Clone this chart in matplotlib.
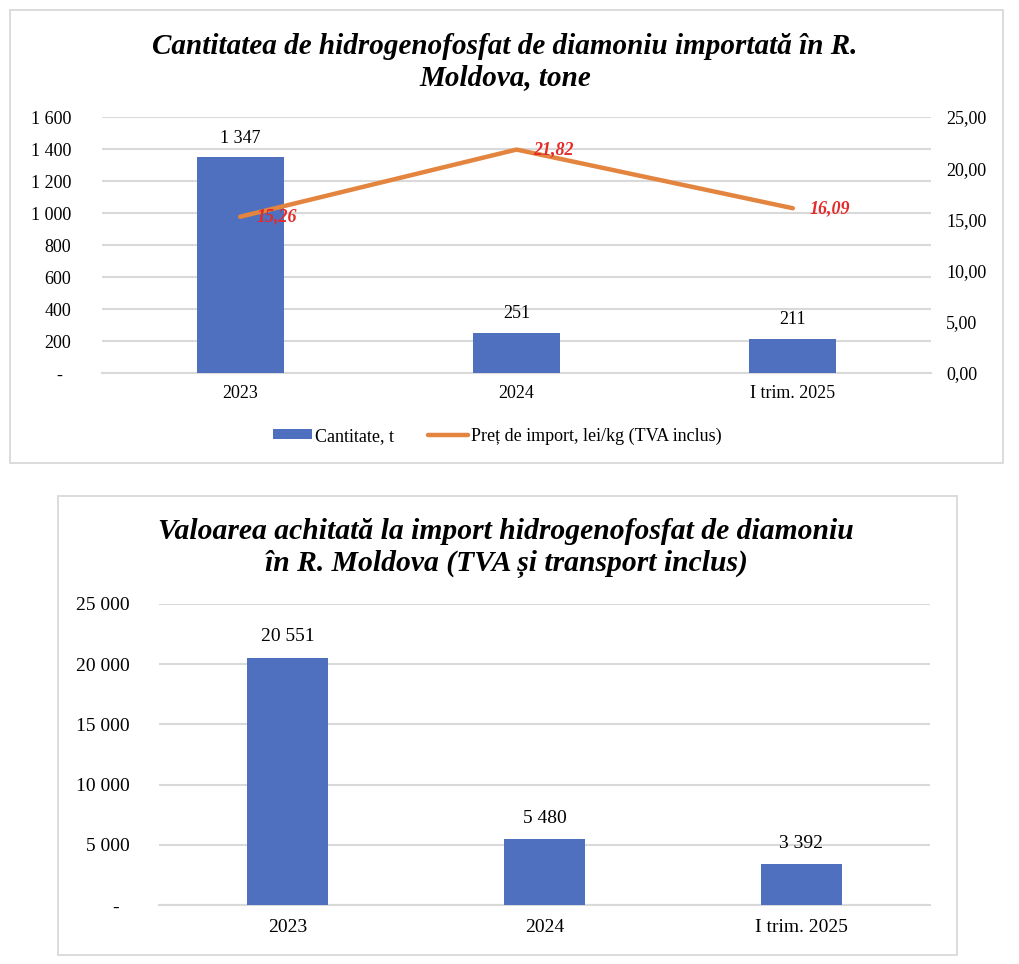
import matplotlib
matplotlib.use("Agg")
import matplotlib.pyplot as plt
from matplotlib.patches import Rectangle, Patch
from matplotlib.lines import Line2D

plt.rcParams['font.family'] = ['Liberation Serif', 'DejaVu Serif']

# ---- data ----
categories = ["2023", "2024", "I trim. 2025"]
quantity_t = [1347, 251, 211]
price_lei_kg = [15.26, 21.82, 16.09]
value_paid = [20551, 5480, 3392]

qty_labels = ["1 347", "251", "211"]
price_labels = ["15,26", "21,82", "16,09"]
value_labels = ["20 551", "5 480", "3 392"]

left_ticks = [0, 200, 400, 600, 800, 1000, 1200, 1400, 1600]
left_ticklabels = ["-  ", "200", "400", "600", "800", "1 000", "1 200", "1 400", "1 600"]
right_ticks = [0, 5, 10, 15, 20, 25]
right_ticklabels = ["0,00", "5,00", "10,00", "15,00", "20,00", "25,00"]
bottom_ticks = [0, 5000, 10000, 15000, 20000, 25000]
bottom_ticklabels = ["-  ", "5 000", "10 000", "15 000", "20 000", "25 000"]

title_top = "Cantitatea de hidrogenofosfat de diamoniu importată în R.\nMoldova, tone"
title_bottom = "Valoarea achitată la import hidrogenofosfat de diamoniu\nîn R. Moldova (TVA și transport inclus)"
legend_labels = ["Cantitate, t", "Preț de import, lei/kg (TVA inclus)"]

BLUE = "#4E70BE"
ORANGE = "#E3843F"
RED = "#E52A2A"
GRID = "#D9D9D9"

W, H = 1020, 964
fig = plt.figure(figsize=(W / 100, H / 100), dpi=100)


def fx(x):
    return x / W


def fy(y):
    return 1 - y / H


# panel borders
for (x0, y0, x1, y1) in [(10, 10, 1003, 463), (58, 496, 957, 955)]:
    fig.patches.append(Rectangle((fx(x0), fy(y1)), fx(x1) - fx(x0), fy(y0) - fy(y1),
                                 transform=fig.transFigure, fill=False,
                                 edgecolor=GRID, linewidth=1.3))

# ---------------- top chart ----------------
ax1 = fig.add_axes([fx(102), fy(373), fx(931) - fx(102), fy(117) - fy(373)])
x = list(range(len(categories)))
ax1.bar(x, quantity_t, width=0.315, color=BLUE, zorder=3)
ax1.set_xlim(-0.5, 2.5)
ax1.set_ylim(0, 1600)
ax1.set_yticks(left_ticks)
ax1.set_yticklabels(left_ticklabels)
ax1.set_xticks(x)
ax1.set_xticklabels(categories)
ax1.grid(axis='y', color=GRID, linewidth=1.5, zorder=0)
ax1.set_axisbelow(True)
for s in ['top', 'right', 'left']:
    ax1.spines[s].set_visible(False)
ax1.spines['bottom'].set_color(GRID)
ax1.spines['bottom'].set_linewidth(1.5)
ax1.tick_params(axis='both', length=0, labelsize=13)
ax1.tick_params(axis='y', pad=22)
ax1.tick_params(axis='x', pad=9)
for xi, v, lab in zip(x, quantity_t, qty_labels):
    ax1.annotate(lab, (xi, v), xytext=(0, 14), textcoords='offset points',
                 ha='center', va='center', fontsize=13)

ax2 = ax1.twinx()
ax2.plot(x, price_lei_kg, color=ORANGE, linewidth=3.2, solid_capstyle='round', zorder=4)
ax2.set_ylim(0, 25)
ax2.set_yticks(right_ticks)
ax2.set_yticklabels(right_ticklabels)
for s in ['top', 'right', 'left', 'bottom']:
    ax2.spines[s].set_visible(False)
ax2.tick_params(axis='y', length=0, labelsize=13, pad=11)
for xi, v, lab in zip(x, price_lei_kg, price_labels):
    ax2.annotate(lab, (xi, v), xytext=(12, 0), textcoords='offset points',
                 ha='left', va='center', fontsize=13, color=RED,
                 fontweight='bold', fontstyle='italic', zorder=5)

fig.text(fx(505), fy(62), title_top, ha='center', va='center', fontsize=21,
         fontweight='bold', fontstyle='italic', linespacing=1.15)

handles = [Patch(facecolor=BLUE, edgecolor='none'),
           Line2D([0], [0], color=ORANGE, linewidth=3.2, solid_capstyle='round')]
fig.legend(handles, legend_labels, loc='center', bbox_to_anchor=(fx(497), fy(436)),
           ncol=2, frameon=False, fontsize=13, handlelength=2.2, handleheight=0.5,
           handletextpad=0.15, columnspacing=1.9)

# ---------------- bottom chart ----------------
ax3 = fig.add_axes([fx(159), fy(905), fx(930) - fx(159), fy(604) - fy(905)])
ax3.bar(x, value_paid, width=0.315, color=BLUE, zorder=3)
ax3.set_xlim(-0.5, 2.5)
ax3.set_ylim(0, 25000)
ax3.set_yticks(bottom_ticks)
ax3.set_yticklabels(bottom_ticklabels)
ax3.set_xticks(x)
ax3.set_xticklabels(categories)
ax3.grid(axis='y', color=GRID, linewidth=1.5, zorder=0)
ax3.set_axisbelow(True)
for s in ['top', 'right', 'left']:
    ax3.spines[s].set_visible(False)
ax3.spines['bottom'].set_color(GRID)
ax3.spines['bottom'].set_linewidth(1.5)
ax3.tick_params(axis='both', length=0, labelsize=14)
ax3.tick_params(axis='y', pad=21)
ax3.tick_params(axis='x', pad=10)
for xi, v, lab in zip(x, value_paid, value_labels):
    ax3.annotate(lab, (xi, v), xytext=(0, 15), textcoords='offset points',
                 ha='center', va='center', fontsize=14)

fig.text(fx(506), fy(548), title_bottom, ha='center', va='center', fontsize=21.3,
         fontweight='bold', fontstyle='italic', linespacing=1.22)

fig.savefig("out.png", dpi=100, facecolor='white')
